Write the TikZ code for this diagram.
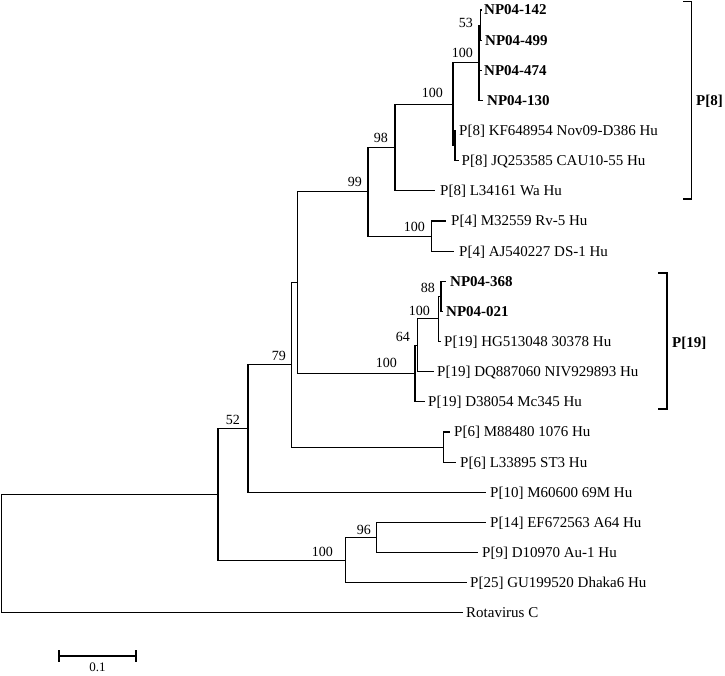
\documentclass[tikz,border=0pt]{standalone}
\usepackage{fontspec}
\setmainfont{Liberation Serif}
\usetikzlibrary{calc}
\begin{document}
\begin{tikzpicture}[x=1pt,y=-1pt,
  br/.style={line width=1.1pt, line join=miter, draw=black},
  leaf/.style={anchor=base west, inner sep=0pt, font=\fontsize{15}{18}\selectfont},
  bleaf/.style={leaf, font=\fontsize{15}{18}\selectfont\bfseries},
  bs/.style={anchor=base east, inner sep=0pt, font=\fontsize{14}{16}\selectfont},
  clade/.style={anchor=base west, inner sep=0pt, font=\fontsize{15}{18}\selectfont\bfseries}]
\fill[white] (0,0) rectangle (725,675);
\useasboundingbox (0,0) rectangle (725,675);

% internal nodes
\coordinate (root) at (1.7, 553.55);
\coordinate (nA) at (218, 494.3);
\coordinate (n52) at (248, 428.55);
\coordinate (n79) at (291.7, 364.9);
\coordinate (nY) at (297.7, 282.7);
\coordinate (n99) at (368, 191.8);
\coordinate (n98) at (395, 147.5);
\coordinate (n100b) at (453, 104.2);
\coordinate (n100a) at (479, 62.7);
\coordinate (n53) at (480.5, 25.05);
\coordinate (nX) at (455, 145.65);
\coordinate (nP4) at (431.7, 236.05);
\coordinate (n100d) at (415, 373.55);
\coordinate (n64) at (417.7, 345.3);
\coordinate (n100c) at (438.3, 318.9);
\coordinate (n88) at (441, 296.35);
\coordinate (nP6) at (443.3, 447.05);
\coordinate (n100e) at (345.3, 560.1);
\coordinate (n96) at (376.7, 537.45);

% internal branches
\draw[br] (root) |- (nA);
\draw[br] (nA) |- (n52);
\draw[br] (nA) |- (n100e);
\draw[br] (n52) |- (n79);
\draw[br] (n79) |- (nY);
\draw[br] (n79) |- (nP6);
\draw[br] (nY) |- (n99);
\draw[br] (nY) |- (n100d);
\draw[br] (n99) |- (n98);
\draw[br] (n99) |- (nP4);
\draw[br] (n98) |- (n100b);
\draw[br] (n100b) |- (n100a);
\draw[br] (n100b) |- (nX);
\draw[br] (n100a) |- (n53);
\draw[br] (n100d) |- (n64);
\draw[br] (n64) |- (n100c);
\draw[br] (n100c) |- (n88);
\draw[br] (n100e) |- (n96);

% leaves
\coordinate (e1) at (482, 10.0);   \draw[br] (n53) |- (e1);   \node[bleaf] (t1) at (484, 14.9) {NP04-142};
\coordinate (e2) at (482, 40.1);   \draw[br] (n53) |- (e2);   \node[bleaf] (t2) at (485, 45.0) {NP04-499};
\coordinate (e3) at (481.5, 70.3); \draw[br] (n100a) |- (e3); \node[bleaf] (t3) at (484, 75.2) {NP04-474};
\coordinate (e4) at (483, 100.4);  \draw[br] (n100a) |- (e4); \node[bleaf] (t4) at (487, 105.3) {NP04-130};
\coordinate (e5) at (456, 130.6);  \draw[br] (nX) |- (e5);    \node[leaf] (t5) at (459, 135.5) {P[8] KF648954 Nov09-D386 Hu};
\coordinate (e6) at (458.5, 160.7);\draw[br] (nX) |- (e6);    \node[leaf] (t6) at (461.5, 165.6) {P[8] JQ253585 CAU10-55 Hu};
\coordinate (e7) at (435, 190.8);  \draw[br] (n98) |- (e7);   \node[leaf] (t7) at (440, 195.7) {P[8] L34161 Wa Hu};
\coordinate (e8) at (446, 221.0);  \draw[br] (nP4) |- (e8);   \node[leaf] (t8) at (451, 225.9) {P[4] M32559 Rv-5 Hu};
\coordinate (e9) at (454, 251.1);  \draw[br] (nP4) |- (e9);   \node[leaf] (t9) at (459, 256.0) {P[4] AJ540227 DS-1 Hu};
\coordinate (e10) at (446, 281.3); \draw[br] (n88) |- (e10);  \node[bleaf] (t10) at (450, 286.2) {NP04-368};
\coordinate (e11) at (443, 311.4); \draw[br] (n88) |- (e11);  \node[bleaf] (t11) at (446, 316.3) {NP04-021};
\coordinate (e12) at (441, 341.5); \draw[br] (n100c) |- (e12);\node[leaf] (t12) at (444, 346.4) {P[19] HG513048 30378 Hu};
\coordinate (e13) at (433.5, 371.7);\draw[br] (n64) |- (e13); \node[leaf] (t13) at (437, 376.6) {P[19] DQ887060 NIV929893 Hu};
\coordinate (e14) at (425, 401.8); \draw[br] (n100d) |- (e14);\node[leaf] (t14) at (428, 406.7) {P[19] D38054 Mc345 Hu};
\coordinate (e15) at (450, 432.0); \draw[br] (nP6) |- (e15);  \node[leaf] (t15) at (454, 436.9) {P[6] M88480 1076 Hu};
\coordinate (e16) at (456, 462.1); \draw[br] (nP6) |- (e16);  \node[leaf] (t16) at (460, 467.0) {P[6] L33895 ST3 Hu};
\coordinate (e17) at (486, 492.2); \draw[br] (n52) |- (e17);  \node[leaf] (t17) at (490, 497.1) {P[10] M60600 69M Hu};
\coordinate (e18) at (486, 522.4); \draw[br] (n96) |- (e18);  \node[leaf] (t18) at (490, 527.3) {P[14] EF672563 A64 Hu};
\coordinate (e19) at (478, 552.5); \draw[br] (n96) |- (e19);  \node[leaf] (t19) at (482, 557.4) {P[9] D10970 Au-1 Hu};
\coordinate (e20) at (466.7, 582.7);\draw[br] (n100e) |- (e20);\node[leaf] (t20) at (470, 587.6) {P[25] GU199520 Dhaka6 Hu};
\coordinate (e21) at (463, 612.8); \draw[br] (root) |- (e21); \node[leaf] (t21) at (466, 617.7) {Rotavirus C};

% bootstrap values
\node[bs] (b53) at (473, 27) {53};
\node[bs] (b100a) at (473, 57.7) {100};
\node[bs] (b100b) at (443, 97.7) {100};
\node[bs] (b98) at (388, 142.7) {98};
\node[bs] (b99) at (362, 186.7) {99};
\node[bs] (b100p4) at (425, 231.7) {100};
\node[bs] (b88) at (435, 292.7) {88};
\node[bs] (b100c) at (430, 315.7) {100};
\node[bs] (b64) at (410, 341.7) {64};
\node[bs] (b100d) at (397, 367.7) {100};
\node[bs] (b79) at (286, 360) {79};
\node[bs] (b52) at (240, 424) {52};
\node[bs] (b96) at (371, 534.7) {96};
\node[bs] (b100e) at (333, 556.4) {100};

% clade brackets
\coordinate (k8t) at (683, 1.7);
\coordinate (k8b) at (683, 199);
\draw[br] (k8t) -- ($(k8t)+(8.7,0)$) |- (k8b);
\node[clade] (p8) at (696, 105) {P[8]};
\coordinate (k19t) at (658, 273);
\coordinate (k19b) at (658, 409);
\draw[br] (k19t) -- ($(k19t)+(9,0)$) |- (k19b);
\node[clade] (p19) at (672, 347) {P[19]};

% scale bar
\coordinate (s1) at (59, 656);
\coordinate (s2) at (136, 656);
\draw[br] (s1) -- (s2);
\draw[br] ($(s1)+(0,-6)$) -- ($(s1)+(0,6)$);
\draw[br] ($(s2)+(0,-6)$) -- ($(s2)+(0,6)$);
\node[anchor=base, inner sep=0pt, font=\fontsize{13}{15}\selectfont] (sl) at (97.5, 671) {0.1};
\end{tikzpicture}
\end{document}
